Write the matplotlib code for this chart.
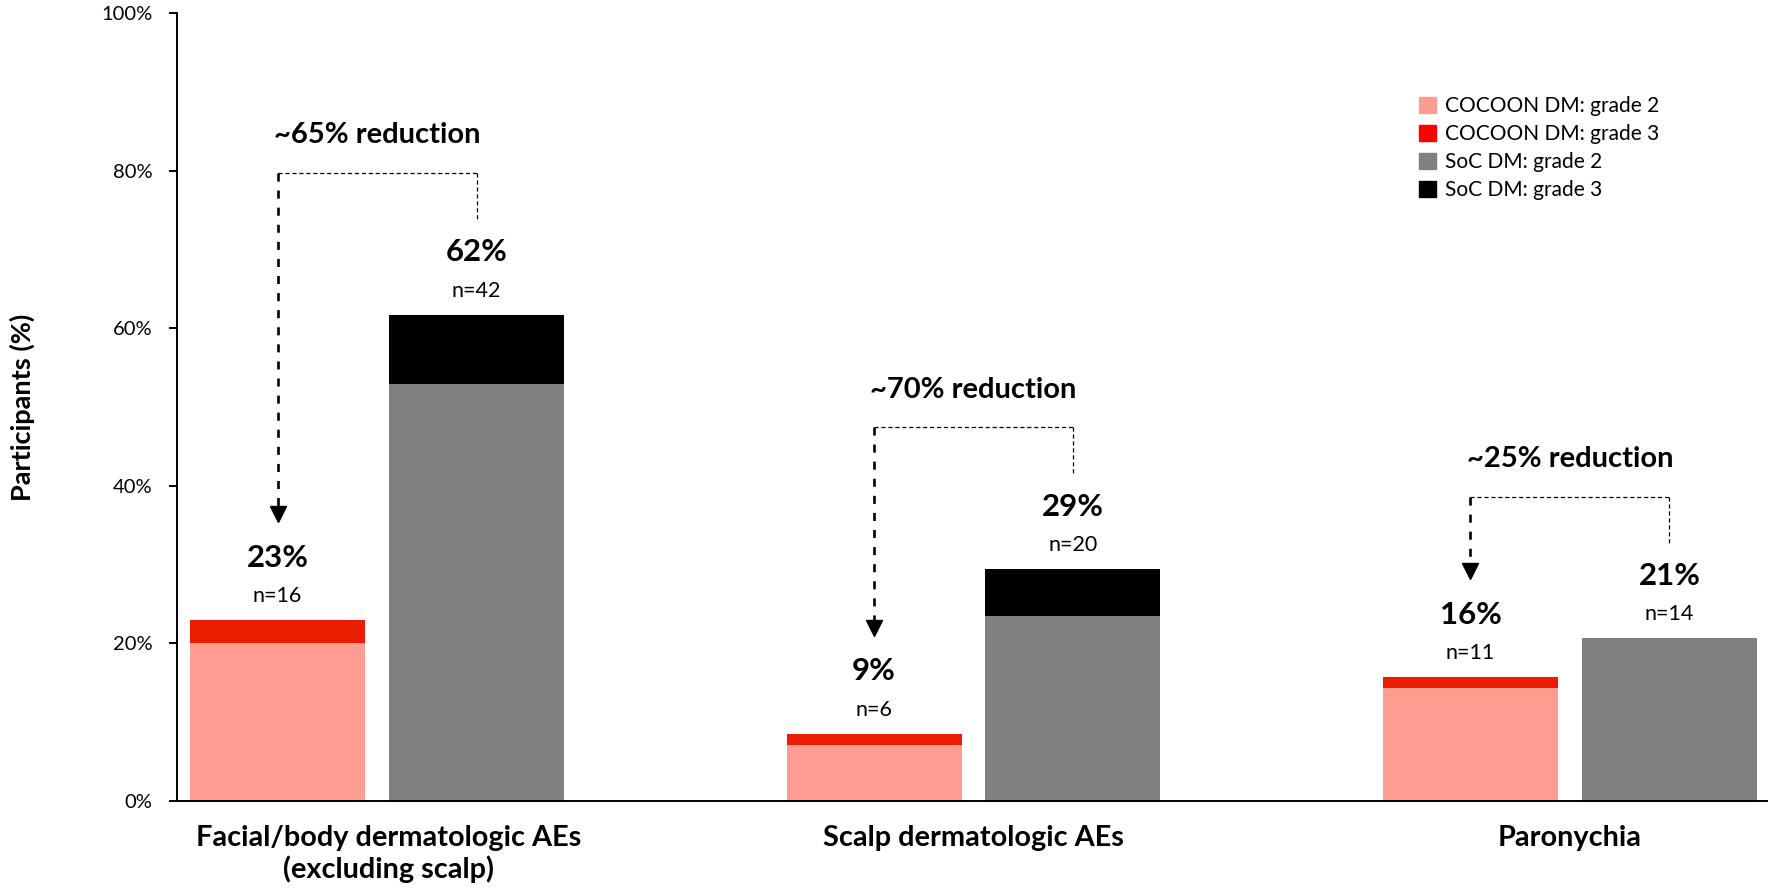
import matplotlib
matplotlib.use("Agg")
import matplotlib.pyplot as plt
import matplotlib.transforms as mtransforms
from matplotlib.patches import Patch
import numpy as np

plt.rcParams['font.family'] = ['Lato', 'DejaVu Sans']
plt.rcParams['lines.scale_dashes'] = False

# ---- data ----
categories = ["Facial/body dermatologic AEs\n(excluding scalp)",
              "Scalp dermatologic AEs", "Paronychia"]
cocoon_g2 = [20.0, 7.1, 14.3]
cocoon_g3 = [2.9, 1.4, 1.4]
soc_g2 = [52.9, 23.5, 20.6]
soc_g3 = [8.8, 5.9, 0.0]
cocoon_pct = ["23%", "9%", "16%"]
soc_pct = ["62%", "29%", "21%"]
cocoon_n = ["n=16", "n=6", "n=11"]
soc_n = ["n=42", "n=20", "n=14"]
reductions = ["~65% reduction", "~70% reduction", "~25% reduction"]
yticks = [0, 20, 40, 60, 80, 100]
ytick_labels = ["0%", "20%", "40%", "60%", "80%", "100%"]
legend_labels = ["COCOON DM: grade 2", "COCOON DM: grade 3",
                 "SoC DM: grade 2", "SoC DM: grade 3"]

c_c2 = "#FF9C92"
c_c3 = "#EC1C00"
c_c3_leg = "#FF0000"
c_s2 = "#808080"
c_s3 = "#000000"

fig = plt.figure(figsize=(17.68, 8.94), dpi=100)
ax = fig.add_axes([0.1003, 0.1044, 0.8997, 0.8807])

x = np.arange(len(categories))
w = 0.2934
off = 0.1668

cocoon_tot = np.array(cocoon_g2) + np.array(cocoon_g3)
soc_tot = np.array(soc_g2) + np.array(soc_g3)

ax.bar(x - off, cocoon_g2, w, color=c_c2)
ax.bar(x - off, cocoon_g3, w, bottom=cocoon_g2, color=c_c3)
ax.bar(x + off, soc_g2, w, color=c_s2)
ax.bar(x + off, soc_g3, w, bottom=soc_g2, color=c_s3)

for i in range(len(categories)):
    ax.text(x[i] - off, cocoon_tot[i] + 6.8, cocoon_pct[i], ha='center', va='baseline',
            fontsize=22.5, fontweight='bold')
    ax.text(x[i] - off, cocoon_tot[i] + 2.3, cocoon_n[i], ha='center', va='baseline',
            fontsize=15.5)
    ax.text(x[i] + off, soc_tot[i] + 6.8, soc_pct[i], ha='center', va='baseline',
            fontsize=22.5, fontweight='bold')
    ax.text(x[i] + off, soc_tot[i] + 2.3, soc_n[i], ha='center', va='baseline',
            fontsize=15.5)

# reduction brackets
ms = 11
head_tr = mtransforms.offset_copy(ax.transData, fig=fig, y=ms / 2, units='points')
for i in range(len(categories)):
    top = soc_tot[i] + 18
    rb = soc_tot[i] + 12
    tip = cocoon_tot[i] + 12.5
    xl, xr = x[i] - off, x[i] + off
    ax.plot([xl, xr], [top, top], color='black', lw=0.9, linestyle=(0, (3, 2)))
    ax.plot([xr, xr], [top, rb], color='black', lw=0.9, linestyle=(0, (3, 2)))
    ax.plot([xl, xl], [top, tip + 1.9], color='black', lw=1.9, linestyle=(0, (5.8, 6.5)))
    ax.plot([xl], [tip], marker='v', ms=ms, color='black', linestyle='none',
            transform=head_tr)
    ax.text(x[i], top + 3.8, reductions[i], ha='center', va='baseline',
            fontsize=21, fontweight='bold')

ax.set_xlim(-0.3348, 2.332)
ax.set_ylim(0, 100)
ax.set_xticks(x)
ax.set_xticklabels(categories, fontsize=20.8, fontweight='bold')
ax.tick_params(axis='x', length=0, pad=17.5)
# first category label sits slightly right of its group centre in the reference
lbl0 = ax.get_xticklabels()[0]
lbl0.set_transform(lbl0.get_transform() +
                   mtransforms.ScaledTranslation(8 / 72, 0, fig.dpi_scale_trans))
ax.set_yticks(yticks)
ax.set_yticklabels(ytick_labels, fontsize=14.5)
ax.tick_params(axis='y', length=6, width=1.4, pad=12, direction='out')
for s in ['top', 'right']:
    ax.spines[s].set_visible(False)
for s in ['left', 'bottom']:
    ax.spines[s].set_linewidth(1.4)
    ax.spines[s].set_color('black')

ax.set_ylabel("Participants (%)", fontsize=19.5, fontweight='bold')
ax.yaxis.set_label_coords(-0.0895, 0.5)

handles = [Patch(color=c_c2), Patch(color=c_c3_leg), Patch(color=c_s2), Patch(color=c_s3)]
fig.legend(handles, legend_labels, loc='upper left', bbox_to_anchor=(0.8028, 0.8922),
           frameon=False, fontsize=15, borderpad=0, borderaxespad=0,
           handlelength=0.8, handleheight=0.8, handletextpad=0.43, labelspacing=0.38)

fig.savefig("out.png", dpi=100)
